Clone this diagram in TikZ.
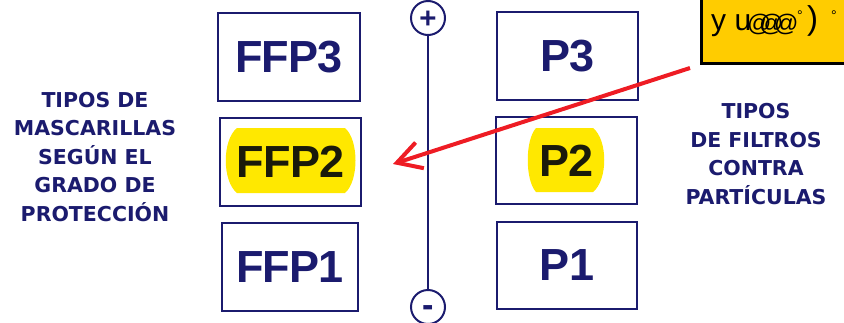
\documentclass[tikz,border=0pt]{standalone}
\usepackage{fontspec}
\setmainfont{Liberation Sans}
\newfontfamily\boxfont[LetterSpace=-2]{Liberation Sans}
\newfontfamily\polefont{TeX Gyre Heros}
\newfontfamily\labfont{DejaVu Sans}
\usetikzlibrary{arrows.meta}
\definecolor{navy}{HTML}{1B1B6E}
\definecolor{hl}{HTML}{FFE800}
\definecolor{notey}{HTML}{FFCC00}
\definecolor{arrred}{HTML}{EE1C24}
\definecolor{ink}{HTML}{1A1A0A}
\begin{document}
\begin{tikzpicture}[x=1pt,y=-1pt,
  grade/.style={draw=navy, line width=2pt, inner sep=0pt, minimum height=88pt,
    font=\boxfont\bfseries\fontsize{45}{45}\selectfont, text=navy},
  hilite/.style={fill=hl, draw=none},
  lab/.style={align=center, text=navy, inner sep=0pt,
    font=\labfont\bfseries\fontsize{20.5}{28.5}\selectfont},
  pole/.style={circle, draw=navy, line width=2pt, minimum size=34pt, inner sep=0pt},
  polesign/.style={inner sep=0pt, text=navy, font=\polefont\bfseries\fontsize{32}{32}\selectfont},
  notech/.style={anchor=base west, inner sep=0pt, text=black}]
\useasboundingbox (0,0) rectangle (844,322);
% highlights
\path[hilite] (237,128) -- (345,128) .. controls (359,140) and (359,181) .. (345,193)
  -- (237,193) .. controls (222,181) and (222,140) .. cycle;
\path[hilite] (536,128) -- (593,128) .. controls (608,140) and (608,180) .. (593,192)
  -- (536,192) .. controls (525,180) and (525,140) .. cycle;
% boxes
\node[grade, minimum width=142pt] (ffp3) at (289,57) {FFP3};
\node[grade, minimum width=141pt, text=ink] (ffp2) at (290.5,162) {FFP2};
\node[grade, minimum width=136pt] (ffp1) at (290,267) {FFP1};
\node[grade, minimum width=141pt] (p3) at (567.5,56) {P3};
\node[grade, minimum width=141pt, minimum height=87pt, text=ink] (p2) at (566.5,160.5) {P2};
\node[grade, minimum width=140pt, minimum height=87pt] (p1) at (567,265.5) {P1};
% scale
\node[pole] (plus) at (428,18) {};
\node[pole] (minus) at (428,307) {};
\node[polesign] (plussign) at (428,19) {+};
\node[polesign] (minussign) at (428,311) {-};
\draw[navy, line width=2pt] (plus) -- (minus);
% labels
\node[lab] (left) at (95,157) {TIPOS DE\\MASCARILLAS\\SEGÚN EL\\GRADO DE\\PROTECCIÓN};
\node[lab] (right) at (756,154) {TIPOS\\DE FILTROS\\CONTRA\\PARTÍCULAS};
% note
\node[draw=black, line width=2.5pt, fill=notey, inner sep=0pt, anchor=north west,
  minimum width=150pt, minimum height=68pt] (note) at (700,-6) {};
\node[notech, font=\fontsize{30}{30}\selectfont] (n1) at (711,30) {y u};
\node[notech, font=\fontsize{24}{24}\selectfont] (n2) at (747,31) {@};
\node[notech, font=\fontsize{24}{24}\selectfont] (n3) at (759,31) {@};
\node[notech, font=\fontsize{24}{24}\selectfont] (n4) at (774,31) {@};
\node[notech, font=\fontsize{14}{14}\selectfont] (n5) at (797,20) {°};
\node[notech, font=\fontsize{33}{33}\selectfont] (n6) at (807,29) {)};
\node[notech, font=\fontsize{14}{14}\selectfont] (n7) at (831,20) {°};
% arrow
\coordinate (from) at (690,68);
\coordinate (to) at (393,164);
\draw[arrred, line width=4pt, -{Straight Barb[length=24pt, width=27pt]}] (from) -- (to);
\end{tikzpicture}
\end{document}
